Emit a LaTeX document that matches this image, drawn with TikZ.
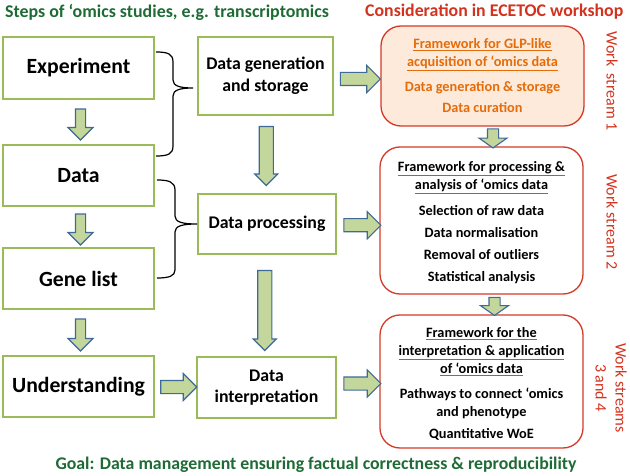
\documentclass[tikz,border=0pt]{standalone}
\usepackage{fontspec}
\setmainfont{Carlito}
\usetikzlibrary{shapes.arrows,calc}
\definecolor{boxgreen}{HTML}{9BBB59}
\definecolor{arrowfill}{HTML}{C3D69B}
\definecolor{arrowblue}{HTML}{3F6A98}
\definecolor{titlegreen}{HTML}{1E6B35}
\definecolor{wsred}{HTML}{D3321E}
\definecolor{fwred}{HTML}{D43A28}
\definecolor{fwfill}{HTML}{FDEADA}
\definecolor{fworange}{HTML}{E46C0A}
\definecolor{ulgrey}{HTML}{707070}
\newcommand{\ulorange}[1]{\underline{#1}}
\newcommand{\ulgray}[1]{\rlap{\textcolor{ulgrey}{\underline{\phantom{#1}}}}#1}
\tikzset{
  gbox/.style={draw=boxgreen, line width=1.4pt, fill=white, inner sep=0pt, align=center},
  fwbox/.style={draw=fwred, line width=1.3pt, rounded corners=20pt, inner sep=0pt, fill=white},
  barrow/.style={single arrow, draw=arrowblue, fill=arrowfill, line width=1.1pt, inner xsep=0pt},
  brace/.style={line width=1.2pt, black},
  wstext/.style={text=wsred, font=\fontsize{16}{20}\selectfont, rotate=-90, align=center}
}
\begin{document}
\begin{tikzpicture}[x=1pt,y=-1pt]
\useasboundingbox (0,0) rectangle (630,476);
% titles
\node[anchor=west, text=titlegreen, font=\bfseries\fontsize{17.9}{20}\selectfont, inner sep=0pt] (t1) at (5,12) {Steps of ‘omics studies, e.g. transcriptomics};
\node[anchor=west, text=wsred, font=\bfseries\fontsize{17.8}{20}\selectfont, inner sep=0pt] (t2) at (365,12) {Consideration in ECETOC workshop};
\node[text=titlegreen, font=\bfseries\fontsize{17.8}{20}\selectfont, inner sep=0pt] (goal) at (316,465) {Goal: Data management ensuring factual correctness \& reproducibility};
% left boxes
\node[gbox, minimum width=151, minimum height=62, font=\bfseries\fontsize{21.7}{24}\selectfont] (exp) at (78.5,68) {Experiment};
\node[gbox, minimum width=151, minimum height=61, font=\bfseries\fontsize{21.7}{24}\selectfont] (data) at (78.5,175.5) {Data};
\node[gbox, minimum width=151, minimum height=61, font=\bfseries\fontsize{21.7}{24}\selectfont] (gene) at (78.5,278.5) {Gene list};
\node[gbox, minimum width=151, minimum height=61, font=\bfseries\fontsize{21.7}{24}\selectfont] (und) at (78.5,386.5) {Understanding};
% middle boxes
\node[gbox, minimum width=135, minimum height=78, font=\bfseries\fontsize{17.8}{22}\selectfont] (gen) at (265.5,76) {Data generation\\and storage};
\node[gbox, minimum width=138, minimum height=60, font=\bfseries\fontsize{17.8}{22}\selectfont] (proc) at (267,224) {Data processing};
\node[gbox, minimum width=139, minimum height=61, font=\bfseries\fontsize{17.8}{21}\selectfont] (interp) at (266.5,387.5) {Data\\interpretation};
% right boxes
\node[fwbox, fill=fwfill, minimum width=203, minimum height=100] (fw1) at (482.5,76) {};
\node[fwbox, minimum width=203, minimum height=147] (fw2) at (481.5,220.5) {};
\node[fwbox, minimum width=203, minimum height=133] (fw3) at (481.5,381.5) {};
\node[text=fworange, font=\bfseries\fontsize{14.3}{18}\selectfont, align=center, inner sep=0pt] (fw1t) at (fw1.center) {\ulorange{Framework for GLP-like}\\\ulorange{acquisition of ‘omics data}\\[7pt]Data generation \& storage\\[3pt]Data curation};
\node[text=black, font=\bfseries\fontsize{14.3}{18}\selectfont, align=center, inner sep=0pt] (fw2t) at ($(fw2.center)+(0,2)$) {\ulgray{Framework for processing \&}\\\ulgray{analysis of ‘omics data}\\[8pt]Selection of raw data\\[4pt]Data normalisation\\[4pt]Removal of outliers\\[4pt]Statistical analysis};
\node[text=black, font=\bfseries\fontsize{14.3}{18}\selectfont, align=center, inner sep=0pt] (fw3t) at ($(fw3.center)+(0,2.5)$) {\ulgray{Framework for the}\\\ulgray{interpretation \& application}\\\ulgray{of ‘omics data}\\[7pt]Pathways to connect ‘omics\\and phenotype\\[4pt]Quantitative WoE};
% work stream labels
\node[wstext] (ws1) at (612,81) {Work\ \ stream 1};
\node[wstext] (ws2) at (612,222) {Work stream 2};
\node[wstext] (ws3) at (611,388) {Work streams\\3 and 4};
% vertical arrows left
\node[barrow, rotate=-90, minimum height=31, inner ysep=4.5pt, single arrow head extend=7.5pt] (a1) at ($(exp.south)!0.5!(data.north)+(2,0)$) {};
\node[barrow, rotate=-90, minimum height=31, inner ysep=4.5pt, single arrow head extend=7.5pt] (a2) at ($(data.south)!0.5!(gene.north)+(2,0)$) {};
\node[barrow, rotate=-90, minimum height=32, inner ysep=4.5pt, single arrow head extend=7.5pt] (a3) at ($(gene.south)!0.5!(und.north)+(2,0)$) {};
% middle vertical arrows
\node[barrow, rotate=-90, minimum height=59, inner ysep=6.5pt, single arrow head extend=4.5pt] (a4) at ($(gen.south)!0.5!(proc.north)+(0,-2)$) {};
\node[barrow, rotate=-90, minimum height=80, inner ysep=6.5pt, single arrow head extend=4.5pt] (a5) at ($(proc.south)!0.5!(interp.north)+(-2,1.5)$) {};
% horizontal arrows
\node[barrow, minimum height=36, inner ysep=6pt, single arrow head extend=7pt] (a6) at ($(und.east)!0.5!(interp.west)$) {};
\node[barrow, minimum height=40, inner ysep=6pt, single arrow head extend=7pt] (a7) at ($(gen.east)!0.5!(fw1.west)+(0,3)$) {};
\node[barrow, minimum height=37, inner ysep=6pt, single arrow head extend=7pt] (a8) at ($(proc.east)!0.5!(fw2.west)+(1,3)$) {};
\node[barrow, minimum height=37, inner ysep=6pt, single arrow head extend=7pt] (a9) at ($(interp.east)!0.5!(fw3.west)+(1,-1)$) {};
% small arrows between frameworks
\node[barrow, rotate=-90, minimum height=19, inner ysep=5pt, single arrow head extend=8.5pt, single arrow tip angle=110] (a10) at ($(fw1.south)!0.5!(fw2.north)+(11,0)$) {};
\node[barrow, rotate=-90, minimum height=18, inner ysep=5pt, single arrow head extend=8.5pt, single arrow tip angle=110] (a11) at ($(fw2.south)!0.5!(fw3.north)+(13,0)$) {};
% braces
\draw[brace] (156,52) .. controls (168,52) and (173,54) .. (173,62) -- (173,80) .. controls (173,86) and (180,88) .. (193,88) .. controls (180,88) and (173,90) .. (173,96) -- (173,146) .. controls (173,154) and (168,156) .. (156,156);
\draw[brace] (157,180) .. controls (169,180) and (175,182) .. (175,190) -- (175,216) .. controls (175,222) and (182,224) .. (197,224) .. controls (182,224) and (175,226) .. (175,232) -- (175,270) .. controls (175,276) and (169,278) .. (157,278);
\end{tikzpicture}
\end{document}
